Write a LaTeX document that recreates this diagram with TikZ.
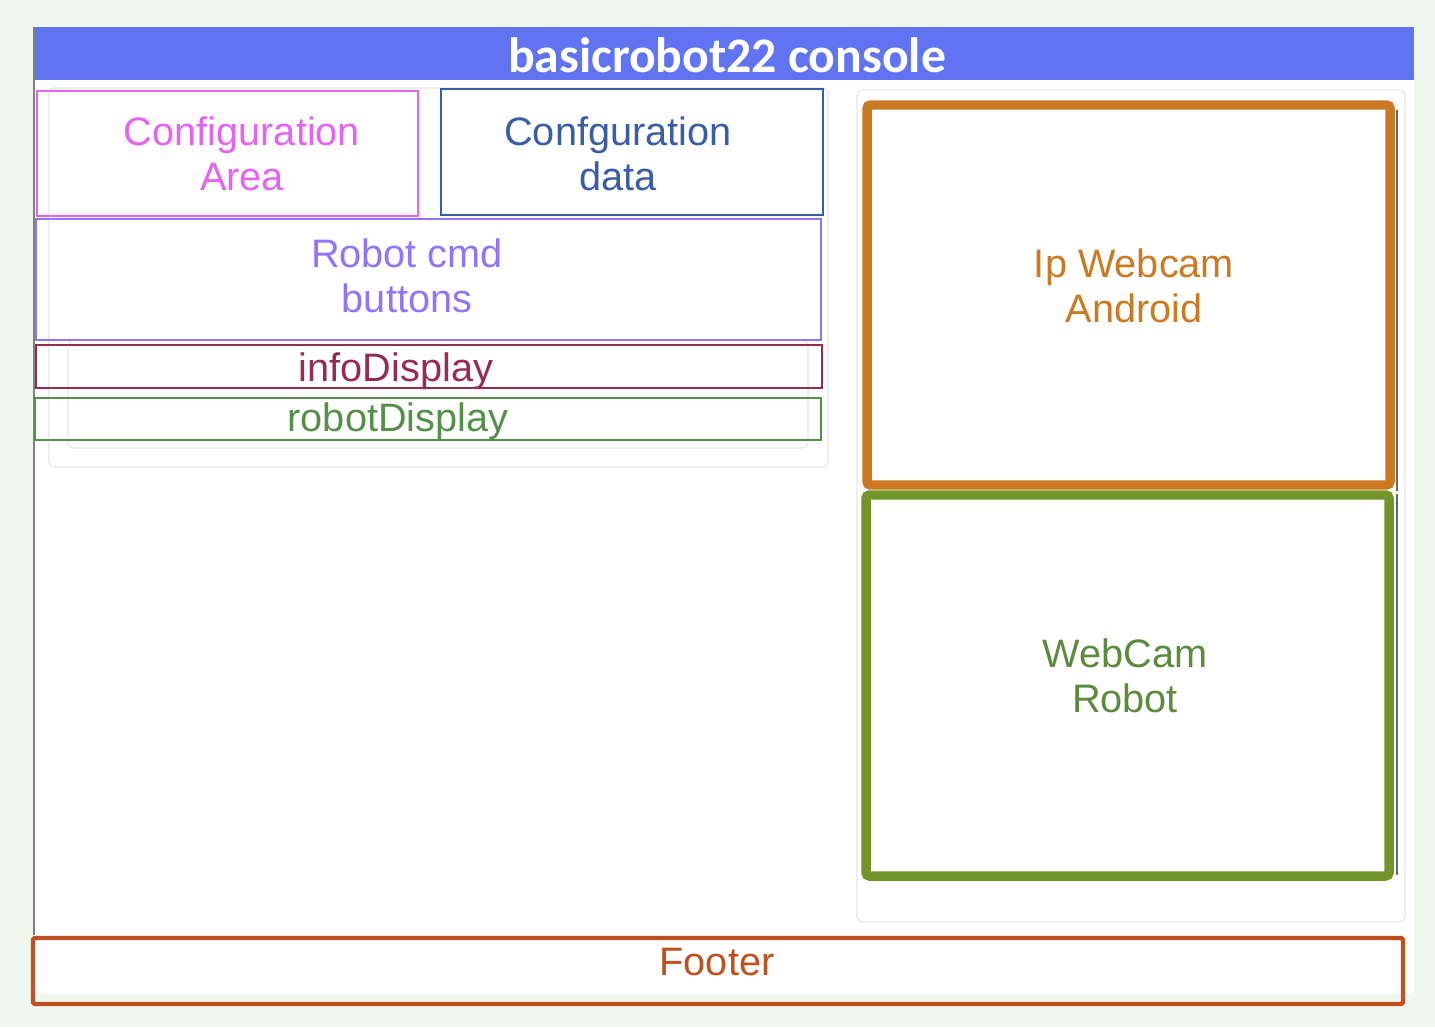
\documentclass[tikz,border=0pt]{standalone}
\usepackage{fontspec}
\setmainfont{Liberation Sans}
\newfontfamily\titlefont{Carlito}
\usepackage{tikz}

\definecolor{bggreen}{HTML}{EEF8EE}
\definecolor{titleblue}{HTML}{6074F2}
\definecolor{panelgray}{HTML}{E6E6E6}
\definecolor{cfgpink}{HTML}{E463F2}
\definecolor{cfgblue}{HTML}{3A5DA8}
\definecolor{cmdpurple}{HTML}{9274FA}
\definecolor{infored}{HTML}{982A50}
\definecolor{robotgreen}{HTML}{55904A}
\definecolor{iporange}{HTML}{CB7A22}
\definecolor{camgreen}{HTML}{72952A}
\definecolor{camtext}{HTML}{5A8C3C}
\definecolor{footred}{HTML}{BF5020}

\begin{document}
\begin{tikzpicture}[
    x=0.02cm,y=-0.02cm,
    area/.style={line width=1.4pt},
    cam/.style={line width=5.4pt,rounded corners=2pt},
    panel/.style={draw=panelgray,line width=0.7pt,rounded corners=3pt},
    txt/.style={align=center,inner sep=0pt,font=\fontsize{22.6}{25.6}\selectfont}
    ]
    \fill[bggreen] (0,0) rectangle (1435,1027);
    \fill[white] (34,27) rectangle (1414,994);
    \draw[panel] (49,88) rectangle (828,467);
    \draw[panel] (68,340) rectangle (808,448);
    \draw[panel] (857,90) rectangle (1405,922);
    \fill[titleblue] (34,27) rectangle (1414,80);
    \draw[gray,line width=0.9pt] (34,27) -- (34,935);
    \node[anchor=base,inner sep=0pt,text=white,font=\titlefont\bfseries\fontsize{28.3}{32}\selectfont] (title) at (727,73) {basicrobot22 console};

    \draw[area,cfgpink] (37,91) rectangle (418,216);
    \node[txt,text=cfgpink] (cfgArea) at (242,154) {Configuration\\Area};
    \draw[area,cfgblue] (441,89) rectangle (823,215);
    \node[txt,text=cfgblue] (cfgData) at (618,154) {Confguration\\data};
    \draw[area,cmdpurple] (36,219) rectangle (821,340);
    \node[txt,text=cmdpurple] (cmdButtons) at (407,276) {Robot cmd\\buttons};
    \draw[area,infored] (36,345) rectangle (822,388);
    \node[txt,text=infored] (infoDisplay) at (396,371) {infoDisplay};
    \draw[area,robotgreen] (35,398) rectangle (821,440);
    \node[txt,text=robotgreen] (robotDisplay) at (398,421) {robotDisplay};

    \draw[gray!80!black,line width=0.9pt] (1397,110) -- (1397,491);
    \draw[gray!80!black,line width=0.9pt] (1397,494) -- (1397,875);
    \draw[cam,iporange] (867,105) rectangle (1390,485);
    \node[txt,text=iporange] (ipWebcam) at (1134,286) {Ip Webcam\\Android};
    \draw[cam,camgreen] (866,495) rectangle (1389,876);
    \node[txt,text=camtext] (camRobot) at (1125,676) {WebCam\\Robot};

    \draw[footred,line width=2.5pt,rounded corners=1pt] (33,938) rectangle (1403,1004);
    \node[txt,text=footred] (footer) at (717,962) {Footer};
\end{tikzpicture}
\end{document}
